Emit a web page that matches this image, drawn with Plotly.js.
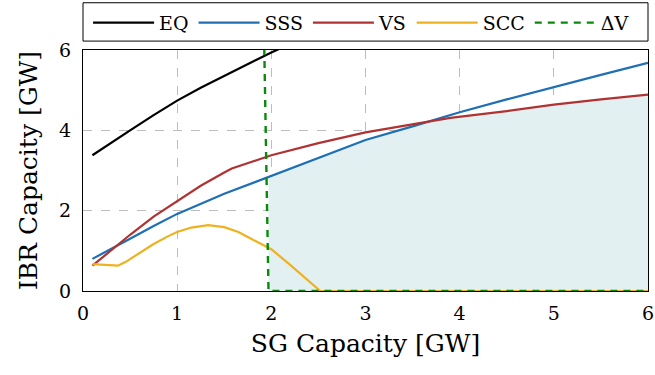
<!DOCTYPE html>
<html>
<head>
<meta charset="utf-8">
<script src="https://cdn.plot.ly/plotly-3.0.1.min.js"></script>
<style>html,body{margin:0;padding:0;background:#fff;}#chart{width:655px;height:375px;}</style>
</head>
<body>
<div id="chart"></div>
<script>
// ---- data ----
const eqX  = [0.1, 0.3, 0.5, 0.75, 1.0, 1.25, 1.5, 1.75, 2.0, 2.25];
const eqY  = [3.38, 3.70, 4.00, 4.38, 4.74, 5.06, 5.36, 5.66, 5.94, 6.20];

const sssX = [0.1, 0.3, 0.5, 0.75, 1.0, 1.5, 2.0, 2.5, 3.0, 3.5, 4.0, 4.5, 5.0, 5.5, 6.0];
const sssY = [0.80, 1.06, 1.30, 1.62, 1.92, 2.42, 2.87, 3.33, 3.76, 4.10, 4.45, 4.77, 5.08, 5.38, 5.68];

const vsX  = [0.1, 0.3, 0.5, 0.75, 1.0, 1.25, 1.5, 1.58, 2.0, 2.5, 3.0, 3.5, 3.9, 4.5, 5.0, 5.5, 6.0];
const vsY  = [0.63, 1.02, 1.40, 1.85, 2.24, 2.62, 2.95, 3.05, 3.38, 3.68, 3.95, 4.15, 4.31, 4.48, 4.64, 4.77, 4.89];

const sccX = [0.1, 0.2, 0.37, 0.45, 0.6, 0.75, 0.9, 1.0, 1.15, 1.33, 1.5, 1.65, 1.8, 2.0, 2.2, 2.35, 2.52, 6.0];
const sccY = [0.67, 0.66, 0.63, 0.72, 0.95, 1.17, 1.36, 1.47, 1.58, 1.64, 1.59, 1.47, 1.28, 1.04, 0.65, 0.35, 0.0, 0.0];

const dvX  = [1.925, 1.97, 6.0];
const dvY  = [6.05, 0.0, 0.0];

// upper boundary of the shaded feasible region
const regionX = [1.97, 2.0, 2.5, 3.0, 3.5, 3.9, 4.5, 5.0, 5.5, 6.0];
const regionY = [2.84, 2.87, 3.33, 3.76, 4.10, 4.31, 4.48, 4.64, 4.77, 4.89];

const xTicks = [0, 1, 2, 3, 4, 5, 6];
const yTicks = [0, 2, 4, 6];

const FONT = 'DejaVu Serif';

const traces = [
  {x: regionX, y: regionY, type: 'scatter', mode: 'lines', fill: 'tozeroy',
   fillcolor: 'rgb(227,240,241)', line: {width: 0}, showlegend: false, hoverinfo: 'skip'},
  {x: eqX, y: eqY, name: 'EQ', type: 'scatter', mode: 'lines', line: {color: '#000000', width: 2.2}},
  {x: sssX, y: sssY, name: 'SSS', type: 'scatter', mode: 'lines', line: {color: '#1f6fb5', width: 2.2}},
  {x: vsX, y: vsY, name: 'VS', type: 'scatter', mode: 'lines', line: {color: '#b03232', width: 2.2}},
  {x: sccX, y: sccY, name: 'SCC', type: 'scatter', mode: 'lines', line: {color: '#eeb11f', width: 2.2}},
  {x: dvX, y: dvY, name: '\u0394V', type: 'scatter', mode: 'lines', line: {color: '#0a8a0a', width: 2.4, dash: '7px,6px'}}
];

const layout = {
  width: 655, height: 375,
  margin: {l: 83, r: 7, t: 50, b: 84, autoexpand: false},
  paper_bgcolor: '#ffffff', plot_bgcolor: '#ffffff',
  font: {family: FONT, color: '#000', size: 18},
  showlegend: true,
  legend: {
    orientation: 'h', x: 0.009, xanchor: 'left', y: 1.113, yanchor: 'middle',
    font: {family: FONT, size: 19, color: '#000'},
    bgcolor: 'rgba(0,0,0,0)', borderwidth: 0,
    itemwidth: 61, tracegroupgap: 0
  },
  shapes: [
    {type: 'rect', xref: 'paper', yref: 'paper', x0: 0, x1: 1, y0: 1.037, y1: 1.196,
     line: {color: '#000', width: 1}, fillcolor: 'rgba(0,0,0,0)'}
  ],
  xaxis: {
    range: [0, 6], tickvals: xTicks, ticktext: xTicks.map(String),
    showgrid: true, gridcolor: '#bdbdbd', griddash: 'dash', gridwidth: 1,
    zeroline: false, showline: true, linecolor: '#000', linewidth: 1, mirror: true,
    ticks: '', ticklabelstandoff: 5,
    tickfont: {family: FONT, size: 19, color: '#000'},
    title: {text: 'SG Capacity [GW]', font: {family: FONT, size: 25, color: '#000'}, standoff: 11}
  },
  yaxis: {
    range: [0, 6], tickvals: yTicks, ticktext: yTicks.map(String),
    showgrid: true, gridcolor: '#bdbdbd', griddash: 'dash', gridwidth: 1,
    zeroline: false, showline: true, linecolor: '#000', linewidth: 1, mirror: true,
    ticks: '', ticklabelstandoff: 7,
    tickfont: {family: FONT, size: 19, color: '#000'},
    title: {text: 'IBR Capacity [GW]', font: {family: FONT, size: 25, color: '#000'}, standoff: 14}
  }
};

Plotly.newPlot('chart', traces, layout, {displayModeBar: false, staticPlot: true});
</script>
</body>
</html>
